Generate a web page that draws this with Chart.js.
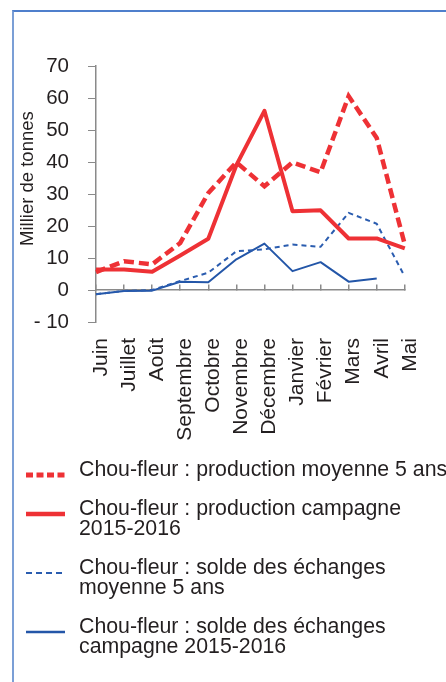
<!DOCTYPE html>
<html>
<head>
<meta charset="utf-8">
<script src="https://cdn.jsdelivr.net/npm/chart.js@4"></script>
<style>
    html, body { margin: 0; padding: 0; background: #fff; }
    #wrap { position: relative; width: 446px; height: 682px; overflow: hidden; }
    #frame {
        position: absolute; left: 12px; top: 10px; right: -4px; bottom: -4px;
        border-left: 2px solid #7b9fd6; border-top: 2px solid #4f7fcc;
    }
    #chart { position: absolute; left: 0; top: 0; }
</style>
</head>
<body>
<div id="wrap">
    <div id="frame"></div>
    <canvas id="chart" width="446" height="682"></canvas>
</div>
<script>
const months = ['Juin', 'Juillet', 'Août', 'Septembre', 'Octobre', 'Novembre', 'Décembre',
    'Janvier', 'Février', 'Mars', 'Avril', 'Mai'];

// milliers de tonnes
const prodMoyenne = [5.6, 9.0, 8.0, 14.7, 30.3, 39.9, 32.4, 39.9, 36.8, 60.6, 47.5, 14.2];
const prodCampagne = [6.4, 6.4, 5.7, 10.8, 16.0, 39.0, 56.0, 24.6, 24.9, 16.1, 16.1, 13.0];
const soldeMoyenne = [-1.3, -0.3, 0.0, 2.8, 5.4, 12.1, 12.7, 14.2, 13.5, 24.1, 20.7, 4.2];
const soldeCampagne = [-1.3, -0.3, -0.2, 2.6, 2.4, 9.6, 14.5, 5.9, 8.7, 2.6, 3.6, null];

const seriesNames = [
    'Chou-fleur : production moyenne 5 ans',
    'Chou-fleur : production campagne\n2015-2016',
    'Chou-fleur : solde des échanges\nmoyenne 5 ans',
    'Chou-fleur : solde des échanges\ncampagne 2015-2016'
];

const yTicks = { min: -10, max: 70, step: 10 };

const FONT = '"Liberation Sans", Arial, sans-serif';
const TEXT = '#231f20';
const AXIS = '#8a8a8a';

// legend drawn under the x labels, one entry per dataset
const bottomLegend = {
    id: 'bottomLegend',
    afterDraw(chart) {
        const ctx = chart.ctx;
        let y = chart.scales.x2.bottom + 28;
        chart.data.datasets.forEach(function (ds) {
            const lines = ds.label.split('\n');
            ctx.save();
            ctx.strokeStyle = ds.borderColor;
            ctx.lineWidth = ds.legendWidth;
            ctx.setLineDash(ds.legendDash);
            ctx.beginPath();
            ctx.moveTo(26, y + 5);
            ctx.lineTo(65, y + 5);
            ctx.stroke();
            ctx.setLineDash([]);
            ctx.fillStyle = TEXT;
            ctx.font = '21.3px ' + FONT;
            ctx.textBaseline = 'middle';
            lines.forEach(function (t, i) {
                ctx.fillText(t, 79, y + i * 20);
            });
            ctx.restore();
            y += (lines.length - 1) * 20 + 39;
        });
    }
};

new Chart(document.getElementById('chart'), {
    type: 'line',
    data: {
        labels: months,
        datasets: [{
            label: seriesNames[0],
            data: prodMoyenne,
            borderColor: '#ee3135',
            borderWidth: 4.5,
            borderDash: [10, 5],
            legendDash: [7, 3.5],
            legendWidth: 5
        }, {
            label: seriesNames[1],
            data: prodCampagne,
            borderColor: '#ee3135',
            borderWidth: 4,
            borderJoinStyle: 'round',
            legendDash: [],
            legendWidth: 4.5
        }, {
            label: seriesNames[2],
            data: soldeMoyenne,
            borderColor: '#2a5caf',
            borderWidth: 2,
            borderDash: [5, 4],
            legendDash: [6, 4],
            legendWidth: 2
        }, {
            label: seriesNames[3],
            data: soldeCampagne,
            borderColor: '#2356a8',
            borderWidth: 2,
            borderJoinStyle: 'round',
            legendDash: [],
            legendWidth: 2.5
        }]
    },
    options: {
        responsive: false,
        animation: false,
        layout: { padding: { left: 17, top: 66, right: 40, bottom: 240 } },
        elements: {
            point: { radius: 0, hoverRadius: 0 },
            line: { tension: 0 }
        },
        plugins: {
            legend: { display: false },
            tooltip: { enabled: false }
        },
        scales: {
            y: {
                min: yTicks.min,
                max: yTicks.max,
                afterFit: function (scale) { scale.width = 79; },
                ticks: {
                    stepSize: yTicks.step,
                    padding: 19,
                    color: TEXT,
                    font: { family: FONT, size: 20.5 },
                    callback: function (v) { return v < 0 ? '- ' + Math.abs(v) : v; }
                },
                grid: { drawOnChartArea: false, tickLength: 8, color: AXIS },
                border: { color: AXIS, width: 1.5 },
                title: {
                    display: true,
                    text: '\u00a0\u00a0\u00a0\u00a0\u00a0\u00a0Millier de tonnes',
                    color: TEXT,
                    padding: 0,
                    font: { family: FONT, size: 18.5 }
                }
            },
            x: {
                position: { y: 0 },
                ticks: { display: false },
                grid: { drawOnChartArea: false, tickLength: -6, color: AXIS, lineWidth: 1.5 },
                border: { color: AXIS, width: 1.5 }
            },
            x2: {
                type: 'category',
                position: 'bottom',
                afterFit: function (scale) { scale.height = 120; },
                grid: { display: false, drawTicks: false },
                border: { display: false },
                ticks: {
                    autoSkip: false,
                    minRotation: 90,
                    maxRotation: 90,
                    padding: 16,
                    labelOffset: 5,
                    color: TEXT,
                    font: { family: FONT, size: 21 }
                }
            }
        }
    },
    plugins: [bottomLegend]
});
</script>
</body>
</html>
